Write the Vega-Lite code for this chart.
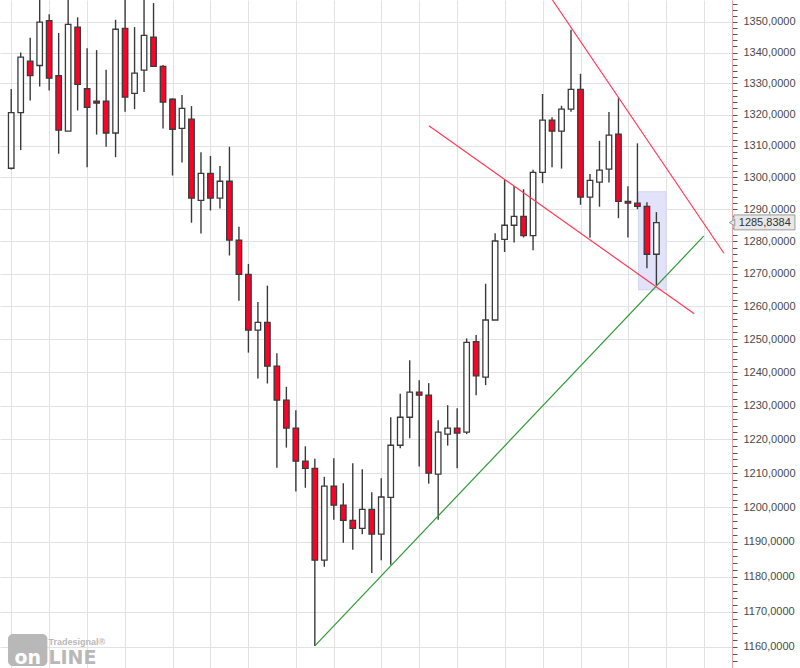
{
  "$schema": "https://vega.github.io/schema/vega-lite/v6.json",
  "width": 732,
  "height": 668,
  "autosize": {"type": "none"},
  "padding": {"left": 0, "top": 0, "right": 68, "bottom": 0},
  "background": "white",
  "config": {"view": {"stroke": null}},
  "data": {"values": [{}]},
  "datasets": {
    "candles": [
      {"i":0,"o":1302.9,"h":1328.2,"l":1302.5,"c":1320.6},
      {"i":1,"o":1320.6,"h":1340.0,"l":1308.7,"c":1338.5},
      {"i":2,"o":1337.2,"h":1344.8,"l":1324.5,"c":1332.5},
      {"i":3,"o":1335.8,"h":1357.5,"l":1329.0,"c":1349.9},
      {"i":4,"o":1350.4,"h":1352.5,"l":1327.7,"c":1331.7},
      {"i":5,"o":1332.5,"h":1346.4,"l":1307.5,"c":1315.0},
      {"i":6,"o":1314.7,"h":1357.5,"l":1314.7,"c":1349.2},
      {"i":7,"o":1348.3,"h":1351.5,"l":1321.3,"c":1329.7},
      {"i":8,"o":1328.3,"h":1341.4,"l":1303.2,"c":1322.3},
      {"i":9,"o":1324.3,"h":1340.8,"l":1313.6,"c":1323.7},
      {"i":10,"o":1324.3,"h":1334.4,"l":1309.7,"c":1314.1},
      {"i":11,"o":1314.1,"h":1350.7,"l":1306.4,"c":1347.6},
      {"i":12,"o":1347.9,"h":1357.5,"l":1320.9,"c":1325.6},
      {"i":13,"o":1326.8,"h":1348.3,"l":1321.7,"c":1333.3},
      {"i":14,"o":1334.3,"h":1357.5,"l":1327.2,"c":1345.6},
      {"i":15,"o":1345.0,"h":1356.2,"l":1335.5,"c":1335.5},
      {"i":16,"o":1335.5,"h":1336.0,"l":1315.5,"c":1324.0},
      {"i":17,"o":1324.9,"h":1325.2,"l":1300.6,"c":1315.3},
      {"i":18,"o":1315.6,"h":1326.3,"l":1304.7,"c":1322.0},
      {"i":19,"o":1318.5,"h":1322.7,"l":1285.8,"c":1293.5},
      {"i":20,"o":1292.8,"h":1308.0,"l":1282.4,"c":1301.3},
      {"i":21,"o":1301.3,"h":1306.8,"l":1289.6,"c":1293.5},
      {"i":22,"o":1293.5,"h":1303.6,"l":1290.2,"c":1298.8},
      {"i":23,"o":1298.8,"h":1309.7,"l":1275.6,"c":1280.4},
      {"i":24,"o":1280.4,"h":1284.5,"l":1261.7,"c":1269.8},
      {"i":25,"o":1269.8,"h":1273.0,"l":1245.9,"c":1252.7},
      {"i":26,"o":1252.7,"h":1261.3,"l":1238.1,"c":1255.1},
      {"i":27,"o":1255.1,"h":1266.3,"l":1236.6,"c":1241.8},
      {"i":28,"o":1241.8,"h":1245.7,"l":1211.6,"c":1231.6},
      {"i":29,"o":1231.6,"h":1235.6,"l":1217.5,"c":1223.3},
      {"i":30,"o":1223.3,"h":1228.6,"l":1204.6,"c":1213.5},
      {"i":31,"o":1213.5,"h":1217.9,"l":1205.7,"c":1211.4},
      {"i":32,"o":1211.4,"h":1214.2,"l":1160.3,"c":1184.7},
      {"i":33,"o":1184.7,"h":1208.9,"l":1182.8,"c":1206.2},
      {"i":34,"o":1206.2,"h":1214.4,"l":1196.4,"c":1200.6},
      {"i":35,"o":1200.6,"h":1207.0,"l":1189.7,"c":1196.2},
      {"i":36,"o":1196.2,"h":1212.9,"l":1187.7,"c":1193.9},
      {"i":37,"o":1193.9,"h":1211.1,"l":1192.2,"c":1199.4},
      {"i":38,"o":1199.4,"h":1204.4,"l":1181.0,"c":1192.2},
      {"i":39,"o":1192.2,"h":1208.5,"l":1184.7,"c":1203.0},
      {"i":40,"o":1202.9,"h":1226.5,"l":1183.4,"c":1218.2},
      {"i":41,"o":1218.2,"h":1233.5,"l":1217.3,"c":1226.5},
      {"i":42,"o":1226.5,"h":1243.6,"l":1220.3,"c":1234.0},
      {"i":43,"o":1234.0,"h":1237.6,"l":1211.9,"c":1233.1},
      {"i":44,"o":1233.1,"h":1236.7,"l":1206.9,"c":1210.0},
      {"i":45,"o":1209.7,"h":1225.6,"l":1196.4,"c":1222.1},
      {"i":46,"o":1221.5,"h":1230.1,"l":1218.1,"c":1223.3},
      {"i":47,"o":1223.3,"h":1229.2,"l":1211.4,"c":1221.8},
      {"i":48,"o":1222.1,"h":1250.2,"l":1221.5,"c":1249.0},
      {"i":49,"o":1249.2,"h":1251.2,"l":1233.1,"c":1238.9},
      {"i":50,"o":1238.5,"h":1266.9,"l":1236.1,"c":1255.8},
      {"i":51,"o":1255.8,"h":1282.5,"l":1255.8,"c":1280.1},
      {"i":52,"o":1280.6,"h":1299.2,"l":1276.7,"c":1285.0},
      {"i":53,"o":1285.0,"h":1297.3,"l":1279.6,"c":1287.8},
      {"i":54,"o":1287.8,"h":1296.3,"l":1281.2,"c":1281.8},
      {"i":55,"o":1281.8,"h":1302.4,"l":1277.2,"c":1301.6},
      {"i":56,"o":1301.6,"h":1326.6,"l":1298.2,"c":1318.2},
      {"i":57,"o":1318.2,"h":1319.1,"l":1303.2,"c":1314.7},
      {"i":58,"o":1314.7,"h":1322.8,"l":1302.8,"c":1321.7},
      {"i":59,"o":1321.7,"h":1347.4,"l":1320.9,"c":1328.1},
      {"i":60,"o":1328.1,"h":1333.1,"l":1291.4,"c":1293.8},
      {"i":61,"o":1293.8,"h":1301.1,"l":1281.1,"c":1299.1},
      {"i":62,"o":1298.5,"h":1311.6,"l":1290.8,"c":1302.3},
      {"i":63,"o":1302.6,"h":1320.8,"l":1298.4,"c":1313.4},
      {"i":64,"o":1313.7,"h":1325.2,"l":1287.2,"c":1292.5},
      {"i":65,"o":1292.5,"h":1297.2,"l":1281.2,"c":1291.9},
      {"i":66,"o":1291.9,"h":1310.8,"l":1290.0,"c":1290.9},
      {"i":67,"o":1290.9,"h":1292.2,"l":1271.7,"c":1276.0},
      {"i":68,"o":1276.0,"h":1289.1,"l":1266.5,"c":1285.8384}
    ],
    "lines": [
      {"id":"g","i":32,"p":1160.3},
      {"id":"g","i":72.98,"p":1281.6},
      {"id":"r1","i":44.02,"p":1316.4},
      {"id":"r1","i":71.99,"p":1257.7},
      {"id":"r2","i":57.04,"p":1357.2},
      {"id":"r2","i":75.12,"p":1276.3}
    ],
    "box": [
      {"i":66.11,"i2":69.02,"p":1295.5,"p2":1265.0}
    ]
  },
  "layer": [
    {
      "data": {"name": "box"},
      "mark": {"type": "rect", "fill": "#e2e2fa", "stroke": "#d4d4f4", "strokeWidth": 1},
      "encoding": {
        "x": {"field": "i", "type": "quantitative", "scale": {"domain": [-0.655, 75.44], "nice": false, "zero": false},
          "axis": {"orient": "bottom", "values": [0,4,8,12,17,21,25,30,34,39,43,47,52,56,60,65,69,73], "grid": true, "gridColor": "#e2e2e2", "gridWidth": 1, "labels": false, "ticks": false, "domain": false, "title": null}},
        "x2": {"field": "i2"},
        "y": {"field": "p", "type": "quantitative", "scale": {"type": "log", "domain": [1154.1, 1357.2], "nice": false, "zero": false},
          "axis": {
            "orient": "right",
            "values": [1156,1158,1160,1162,1164,1166,1168,1170,1172,1174,1176,1178,1180,1182,1184,1186,1188,1190,1192,1194,1196,1198,1200,1202,1204,1206,1208,1210,1212,1214,1216,1218,1220,1222,1224,1226,1228,1230,1232,1234,1236,1238,1240,1242,1244,1246,1248,1250,1252,1254,1256,1258,1260,1262,1264,1266,1268,1270,1272,1274,1276,1278,1280,1282,1284,1286,1288,1290,1292,1294,1296,1298,1300,1302,1304,1306,1308,1310,1312,1314,1316,1318,1320,1322,1324,1326,1328,1330,1332,1334,1336,1338,1340,1342,1344,1346,1348,1350,1352,1354,1356],
            "title": null,
            "grid": true,
            "gridColor": {"condition": {"test": "datum.value % 10 === 0", "value": "#e2e2e2"}, "value": "transparent"},
            "gridWidth": 1,
            "labelExpr": "datum.value % 10 === 0 ? replace(format(datum.value, '.4f'), '.', ',') : ''",
            "labelFont": "Liberation Sans",
            "labelFontSize": 11,
            "labelColor": "#4a4a4a",
            "labelOverlap": false,
            "labelBound": false,
            "labelFlush": false,
            "labelPadding": 6,
            "tickSize": 5,
            "tickColor": "#555555",
            "tickWidth": 1,
            "domainColor": "#d9aaaa",
            "domainWidth": 1
          }},
        "y2": {"field": "p2"}
      }
    },
    {
      "data": {"name": "candles"},
      "mark": {"type": "rule", "stroke": "#3a3a3a", "strokeWidth": 1.4, "clip": true},
      "encoding": {
        "x": {"field": "i", "type": "quantitative", "scale": {"domain": [-0.655, 75.44], "nice": false, "zero": false}},
        "y": {"field": "l", "type": "quantitative", "scale": {"type": "log", "domain": [1154.1, 1357.2], "nice": false, "zero": false}},
        "y2": {"field": "h"}
      }
    },
    {
      "data": {"name": "candles"},
      "mark": {"type": "bar", "size": 5.5, "stroke": "#3a3a3a", "strokeWidth": 1.3, "clip": true},
      "encoding": {
        "x": {"field": "i", "type": "quantitative", "scale": {"domain": [-0.655, 75.44], "nice": false, "zero": false}},
        "y": {"field": "o", "type": "quantitative", "scale": {"type": "log", "domain": [1154.1, 1357.2], "nice": false, "zero": false}},
        "y2": {"field": "c"},
        "fill": {"condition": {"test": "datum.c < datum.o", "value": "#ff0026"}, "value": "#ffffff"}
      }
    },
    {
      "data": {"name": "lines"},
      "mark": {"type": "line", "strokeWidth": 1.2, "clip": true},
      "encoding": {
        "x": {"field": "i", "type": "quantitative", "scale": {"domain": [-0.655, 75.44], "nice": false, "zero": false}},
        "y": {"field": "p", "type": "quantitative", "scale": {"type": "log", "domain": [1154.1, 1357.2], "nice": false, "zero": false}},
        "detail": {"field": "id"},
        "color": {"field": "id", "type": "nominal", "scale": {"domain": ["g", "r1", "r2"], "range": ["#2f9a36", "#ff3a5a", "#ff3a5a"]}, "legend": null}
      }
    },
    {
      "mark": {"type": "rect", "fill": "#e8e8e8", "stroke": "#9a9a9a", "strokeWidth": 1},
      "encoding": {
        "x": {"datum": 76.165, "type": "quantitative", "scale": {"domain": [-0.655, 75.44], "nice": false, "zero": false}},
        "x2": {"datum": 82.6},
        "y": {"datum": 1288.23, "type": "quantitative", "scale": {"type": "log", "domain": [1154.1, 1357.2], "nice": false, "zero": false}},
        "y2": {"datum": 1283.57}
      }
    },
    {
      "mark": {"type": "point", "shape": "triangle-left", "size": 40, "filled": true, "fill": "#e8e8e8", "stroke": "#9a9a9a", "strokeWidth": 1, "opacity": 1},
      "encoding": {
        "x": {"datum": 75.97, "type": "quantitative", "scale": {"domain": [-0.655, 75.44], "nice": false, "zero": false}},
        "y": {"datum": 1285.8384, "type": "quantitative", "scale": {"type": "log", "domain": [1154.1, 1357.2], "nice": false, "zero": false}}
      }
    },
    {
      "mark": {"type": "text", "text": "1285,8384", "align": "left", "baseline": "middle", "font": "Liberation Sans", "fontSize": 11, "fill": "#333333"},
      "encoding": {
        "x": {"datum": 76.68, "type": "quantitative", "scale": {"domain": [-0.655, 75.44], "nice": false, "zero": false}},
        "y": {"datum": 1285.8384, "type": "quantitative", "scale": {"type": "log", "domain": [1154.1, 1357.2], "nice": false, "zero": false}}
      }
    },
    {
      "mark": {"type": "rect", "fill": "#b8b8b8", "cornerRadius": 5},
      "encoding": {
        "x": {"datum": -0.343, "type": "quantitative", "scale": {"domain": [-0.655, 75.44], "nice": false, "zero": false}},
        "x2": {"datum": 3.813},
        "y": {"datum": 1163.67, "type": "quantitative", "scale": {"type": "log", "domain": [1154.1, 1357.2], "nice": false, "zero": false}},
        "y2": {"datum": 1154.66}
      }
    },
    {
      "mark": {"type": "text", "text": "on", "align": "center", "baseline": "alphabetic", "font": "DejaVu Sans", "fontWeight": "bold", "fontSize": 19, "fill": "#ffffff"},
      "encoding": {
        "x": {"datum": 1.736, "type": "quantitative", "scale": {"domain": [-0.655, 75.44], "nice": false, "zero": false}},
        "y": {"datum": 1155.3, "type": "quantitative", "scale": {"type": "log", "domain": [1154.1, 1357.2], "nice": false, "zero": false}}
      }
    },
    {
      "mark": {"type": "text", "text": "LINE", "align": "left", "baseline": "alphabetic", "font": "DejaVu Sans", "fontWeight": "bold", "fontSize": 19, "fill": "#b8b8b8"},
      "encoding": {
        "x": {"datum": 3.919, "type": "quantitative", "scale": {"domain": [-0.655, 75.44], "nice": false, "zero": false}},
        "y": {"datum": 1155.3, "type": "quantitative", "scale": {"type": "log", "domain": [1154.1, 1357.2], "nice": false, "zero": false}}
      }
    },
    {
      "mark": {"type": "text", "text": "Tradesignal®", "align": "left", "baseline": "alphabetic", "font": "Liberation Sans", "fontWeight": "bold", "fontSize": 9, "fill": "#b8b8b8"},
      "encoding": {
        "x": {"datum": 3.919, "type": "quantitative", "scale": {"domain": [-0.655, 75.44], "nice": false, "zero": false}},
        "y": {"datum": 1160.6, "type": "quantitative", "scale": {"type": "log", "domain": [1154.1, 1357.2], "nice": false, "zero": false}}
      }
    }
  ]
}
